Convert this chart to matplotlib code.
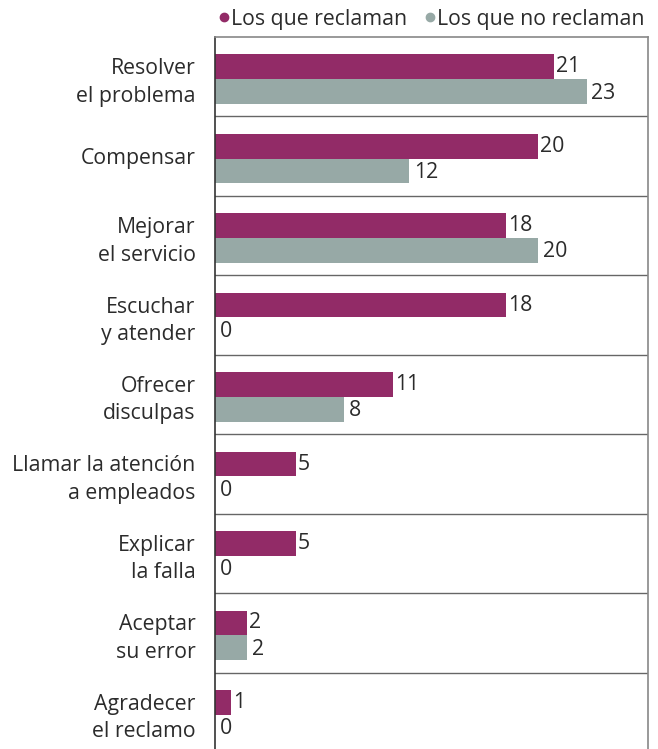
import matplotlib
matplotlib.use("Agg")
import matplotlib.pyplot as plt
from matplotlib.lines import Line2D
import numpy as np

# datos
categorias = ["Resolver\nel problema", "Compensar", "Mejorar\nel servicio",
              "Escuchar\ny atender", "Ofrecer\ndisculpas",
              "Llamar la atención\na empleados", "Explicar\nla falla",
              "Aceptar\nsu error", "Agradecer\nel reclamo"]
reclaman = [21, 20, 18, 18, 11, 5, 5, 2, 1]
no_reclaman = [23, 12, 20, 0, 8, 0, 0, 2, 0]
series = ["Los que reclaman", "Los que no reclaman"]

c_rec = "#922B67"
c_no = "#97A9A6"
txt = "#2b2b2b"
fs = 15.3

plt.rcParams['font.family'] = ['Open Sans', 'DejaVu Sans']

fig = plt.figure(figsize=(6.58, 7.49), dpi=100)
ax = fig.add_axes([215 / 658, -0.004, 433 / 658, 712 / 749 + 0.004])

y = np.arange(len(categorias))
h = 0.31
off = 0.03
ax.barh(y + off - h / 2, reclaman, height=h, color=c_rec)
ax.barh(y + off + h / 2, no_reclaman, height=h, color=c_no)

for i in range(len(categorias)):
    ax.text(reclaman[i] + 0.12, y[i] + off - h / 2, str(reclaman[i]),
            va="center", ha="left", fontsize=fs, color=txt)
    ax.text(no_reclaman[i] + 0.3, y[i] + off + h / 2 + 0.02, str(no_reclaman[i]),
            va="center", ha="left", fontsize=fs, color=txt)

for i in range(len(categorias) - 1):
    ax.axhline(i + 0.5, color="#666666", lw=1)

ax.set_xlim(0, 26.8)
ax.set_ylim(len(categorias) - 0.5, -0.5)
ax.set_xticks([])
ax.set_yticks(y)
ax.set_yticklabels(categorias, fontsize=fs, color=txt, linespacing=1.4)
ax.tick_params(axis="y", length=0, pad=14)
ax.spines["bottom"].set_visible(False)
ax.spines["left"].set_color("#333333")
ax.spines["top"].set_color("#888888")
ax.spines["right"].set_color("#888888")
for s in ax.spines.values():
    s.set_linewidth(1.2)

# leyenda
ly = 1 - 19 / 749
fig.add_artist(Line2D([224 / 658], [1 - 17 / 749], marker="o", markersize=6,
                      color=c_rec, linestyle="none", transform=fig.transFigure))
fig.text(231 / 658, ly, series[0], color=txt, fontsize=fs, va="center", ha="left")
fig.add_artist(Line2D([430 / 658], [1 - 17 / 749], marker="o", markersize=6,
                      color=c_no, linestyle="none", transform=fig.transFigure))
fig.text(437 / 658, ly, series[1], color=txt, fontsize=fs, va="center", ha="left")

fig.savefig("out.png", dpi=100)
